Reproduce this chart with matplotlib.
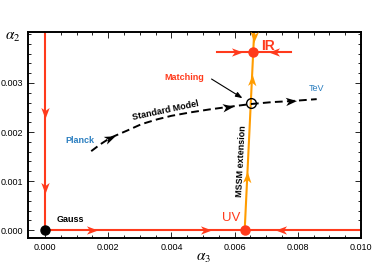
import matplotlib
matplotlib.use("Agg")
import matplotlib.pyplot as plt
from matplotlib.path import Path
from matplotlib.markers import MarkerStyle
from matplotlib.transforms import Affine2D
import numpy as np

plt.rcParams['font.family'] = ['Liberation Sans', 'DejaVu Sans']
plt.rcParams['mathtext.fontset'] = 'stix'

red = '#ff3a1c'
orange = '#ff9c00'
blue = '#2b7fc0'

# fixed points
gauss = (0.0, 0.0)
uv = (0.00632, 0.0)
ir = (0.00659, 0.00363)
match_pt = (0.00651, 0.00259)

# standard model running (Planck -> TeV)
sm_a3 = [0.00146, 0.00175, 0.00206, 0.0026, 0.00305, 0.00356, 0.0040, 0.0046, 0.00520, 0.00578, 0.00651, 0.00720, 0.00778, 0.0086]
sm_a2 = [0.00161, 0.00175, 0.00188, 0.00203, 0.00216, 0.00226, 0.00233, 0.00240, 0.00246, 0.00251, 0.00257, 0.00261, 0.00263, 0.00267]

# IR horizontal segment
ir_seg = [0.00545, 0.00778]

# arrow heads: (x, y, dx, dy) direction in data units
red_arrows = [(0.0, 0.00239, 0, -1), (0.0, 0.00086, 0, -1),
              (0.0015, 0.0, 1, 0), (0.00508, 0.0, 1, 0), (0.00746, 0.0, -1, 0),
              (0.00608, 0.00363, 1, 0), (0.00724, 0.00363, -1, 0)]
orange_arrows = [(0.00640, 0.00108, 0.000074, 0.001), (0.00654, 0.00306, 0.000074, 0.001),
                 (0.00660, 0.00394, -0.000074, -0.001)]
sm_arrows = [(0.00206, 0.00188, 0.001, 0.00028), (0.00578, 0.00251, 0.001, 0.00009),
             (0.00778, 0.00263, 0.001, 0.00005)]

fig = plt.figure(figsize=(3.74, 2.8), dpi=100)
ax = fig.add_axes([0.075, 0.15, 0.89, 0.736])
ax.set_xlim(-0.00054, 0.01)
ax.set_ylim(-0.00016, 0.00404)

ax.plot([0, 0], [0, 0.00404], color=red, lw=1.5, zorder=2)
ax.plot([0, 0.01], [0, 0], color=red, lw=1.5, zorder=2)
ax.plot(ir_seg, [ir[1], ir[1]], color=red, lw=1.5, zorder=2)
ox_top = uv[0] + (ir[0] - uv[0]) / ir[1] * 0.00404
ax.plot([uv[0], ox_top], [0, 0.00404], color=orange, lw=1.5, zorder=2)
ax.plot(sm_a3, sm_a2, color='black', lw=1.4, ls=(0, (4, 2.2)), zorder=3)

head = Path([(1, 0), (-1, 0.75), (-0.45, 0), (-1, -0.75), (1, 0)],
            [Path.MOVETO, Path.LINETO, Path.LINETO, Path.LINETO, Path.CLOSEPOLY])

def heads(arrs, color, size):
    for x, y, dx, dy in arrs:
        p0 = ax.transData.transform((x, y))
        p1 = ax.transData.transform((x + dx, y + dy))
        ang = np.degrees(np.arctan2(p1[1] - p0[1], p1[0] - p0[0]))
        m = MarkerStyle(head, transform=Affine2D().rotate_deg(ang))
        ax.plot(x, y, marker=m, color=color, ms=size, mew=0, ls='none', zorder=4)

heads(red_arrows, red, 8)
heads(orange_arrows, orange, 8)
heads(sm_arrows, 'black', 8)

ax.plot(*gauss, 'o', color='black', ms=6.5, zorder=5, clip_on=False)
ax.plot(*uv, 'o', color=red, ms=6.5, zorder=5)
ax.plot(*ir, 'o', color=red, ms=6.5, zorder=5)
ax.plot(*match_pt, 'o', mfc='none', mec='black', mew=1.0, ms=7, zorder=5)

ax.text(0.00035, 0.00022, 'Gauss', fontsize=6.5, fontweight='bold', va='center')
ax.text(0.0059, 0.00025, 'UV', fontsize=9.5, color=red, va='center', ha='center')
ax.text(0.00685, 0.00375, 'IR', fontsize=10, color=red, fontweight='bold', va='center')
ax.text(0.0044, 0.00312, 'Matching', fontsize=6.5, color=red, fontweight='bold', va='center', ha='center')
ax.text(0.00111, 0.00182, 'Planck', fontsize=6.5, color=blue, fontweight='bold', va='center', ha='center')
ax.text(0.0086, 0.00288, 'TeV', fontsize=6.5, color=blue, va='center', ha='center')
ax.text(0.0038, 0.00243, 'Standard Model', fontsize=6.5, fontweight='bold', rotation=12,
        va='center', ha='center')
ax.text(0.00621, 0.00141, 'MSSM extension', fontsize=6.5, fontweight='bold', rotation=87,
        va='center', ha='center')
ax.annotate('', xy=(0.00625, 0.00269), xytext=(0.00527, 0.00308),
            arrowprops=dict(arrowstyle='-|>,head_length=0.4,head_width=0.15',
                            color='black', lw=0.8, shrinkA=0, shrinkB=0))

ax.set_xticks(np.arange(0, 0.0101, 0.002))
ax.set_xticks(np.arange(0, 0.0101, 0.0005), minor=True)
ax.set_yticks(np.arange(0, 0.0031, 0.001))
ax.set_yticks(np.arange(0, 0.0041, 0.0002), minor=True)
ax.xaxis.set_major_formatter(matplotlib.ticker.FormatStrFormatter('%.3f'))
ax.yaxis.set_major_formatter(matplotlib.ticker.FormatStrFormatter('%.3f'))
ax.tick_params(which='both', direction='in', top=True, right=True, labelsize=6.5, width=0.6)
ax.tick_params(which='major', length=4)
ax.tick_params(which='minor', length=2)
for s in ax.spines.values():
    s.set_linewidth(1.4)

fig.text(0.543, 0.078, r'$\alpha_3$', fontsize=11, ha='center', va='center')
fig.text(0.035, 0.868, r'$\alpha_2$', fontsize=11, ha='center', va='center')

fig.savefig('out.png', dpi=100)
